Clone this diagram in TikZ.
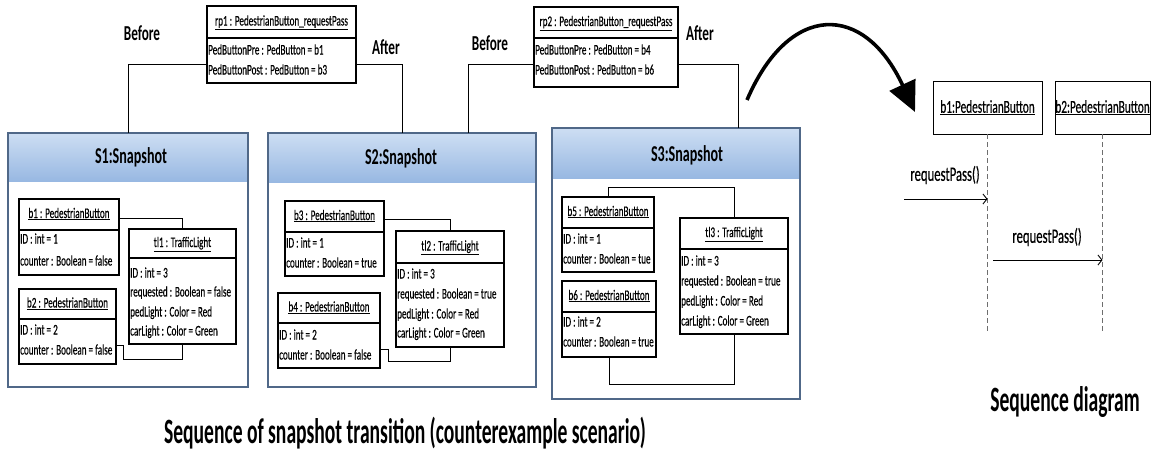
\documentclass[tikz,border=0pt]{standalone}
\usepackage{fontspec}
\setmainfont{Carlito}[FakeStretch=0.62]
\newfontfamily\objfont{Carlito}[FakeStretch=0.62, FakeBold=0.35]
\newfontfamily\capfont{Carlito}[FakeStretch=0.55]
\usetikzlibrary{arrows.meta}

\definecolor{bandtop}{RGB}{205,222,243}
\definecolor{bandbot}{RGB}{152,184,226}
\definecolor{snapedge}{RGB}{80,104,136}
\definecolor{lifeline}{RGB}{110,110,110}

\tikzset{
  objbox/.style={draw=black, line width=1.1pt, fill=white, inner sep=0pt, outer sep=0pt},
  objbox-div/.style={draw=black, line width=1.1pt},
  rpbox/.style={draw=black, line width=2.4pt, fill=white, inner sep=0pt, outer sep=0pt},
  rpbox-div/.style={draw=black, line width=2pt},
  objtext/.style={font=\objfont\fontsize{14.7}{16}\selectfont, inner sep=1pt, text height=10pt, text depth=3pt},
  lbl/.style={font=\bfseries\fontsize{21.3}{24}\selectfont, inner sep=0pt},
  ttl/.style={font=\bfseries\fontsize{22.7}{26}\selectfont, inner sep=0pt},
  captext/.style={font=\capfont\bfseries\fontsize{35.6}{40}\selectfont, inner sep=0pt},
  msg/.style={font=\objfont\fontsize{20.5}{24}\selectfont, inner sep=0pt},
  snapbox/.style={draw=snapedge, line width=1.2pt, fill=white, inner sep=0pt, outer sep=0pt},
  band/.style={top color=bandtop, bottom color=bandbot},
  conn/.style={draw=black, line width=0.9pt},
  seqbox/.style={draw=black, line width=0.9pt, fill=white, inner sep=0pt, outer sep=0pt,
    font=\objfont\fontsize{18.2}{21}\selectfont},
  life/.style={draw=lifeline, line width=0.9pt, dash pattern=on 5pt off 3pt},
  call/.style={draw=black, line width=0.9pt, -{Straight Barb[length=4pt,width=10pt]}},
}

% #1 style, #2 name, #3 left, #4 top, #5 right, #6 divider, #7 bottom, #8 header, #9 y/attribute list
\newcommand{\umlobject}[9]{%
  \node[#1, anchor=north west, minimum width={(#5-#3)*1pt}, minimum height={(#7-#4)*1pt}] (#2) at (#3,#4) {};
  \draw[#1-div] (#3,#6) -- (#5,#6);
  \node[objtext] (#2-h) at ({(#3+#5)/2},{(#4+#6)/2}) {\underline{#8}};
  \foreach \ay/\atext [count=\ai] in {#9} {\node[objtext, anchor=west] (#2-a\ai) at (#3,\ay) {\atext};}
}

% #1 name, #2 left, #3 top, #4 right, #5 bottom, #6 band bottom, #7 title x, #8 title y, #9 title
\newcommand{\snapshot}[9]{%
  \node[snapbox, anchor=north west, minimum width={(#4-#2)*1pt}, minimum height={(#5-#3)*1pt}] (#1) at (#2,#3) {};
  \shade[band] (#1.north west) rectangle ([yshift={(#3-#6)*1pt}]#1.north east);
  \draw[snapedge, line width=1.2pt] (#1.north west) rectangle (#1.south east);
  \node[ttl] (#1-t) at (#7,#8) {#9};
}

\begin{document}
\begin{tikzpicture}[x=1pt, y=-1pt]
\useasboundingbox (0,0) rectangle (1151,450);

% requestPass operation instances
\umlobject{rpbox}{rp1}{207}{6}{356}{38}{83}{rp1 : PedestrianButton\_requestPass}
  {51/PedButtonPre : PedButton = b1, 71/PedButtonPost : PedButton = b3}
\umlobject{rpbox}{rp2}{534}{7}{678}{38}{87}{rp2 : PedestrianButton\_requestPass}
  {51/PedButtonPre : PedButton = b4, 71/PedButtonPost : PedButton = b6}

\node[lbl] (bef1) at (142,33) {Before};
\node[lbl] (aft1) at (386,47) {After};
\node[lbl] (bef2) at (490,43) {Before};
\node[lbl] (aft2) at (700,33) {After};

% snapshots
\snapshot{S1}{8}{133}{248}{387}{181}{131}{157}{S1:Snapshot}
\snapshot{S2}{268}{133}{536}{387}{182}{401}{158}{S2:Snapshot}
\snapshot{S3}{552}{128}{800}{399}{178}{687}{155}{S3:Snapshot}

% links from the operation instances to the snapshots
\draw[conn] ([yshift=-19.5pt]rp1.west) -| (S1.north);
\draw[conn] ([yshift=-19.5pt]rp1.east) -| (S2.north);
\draw[conn] ([yshift=-17pt]rp2.west) -| ([xshift=66pt]S2.north);
\draw[conn] ([yshift=-17pt]rp2.east) -| ([xshift=62pt]S3.north);

% S1 objects
\umlobject{objbox}{b1}{19}{199}{119}{230}{275}{b1 : PedestrianButton}
  {240/ID : int = 1, 262/counter : Boolean = false}
\umlobject{objbox}{b2}{19}{289}{116}{319}{364}{b2 : PedestrianButton}
  {331/ID : int = 2, 351/counter : Boolean = false}
\umlobject{objbox}{tl1}{129}{229}{236}{258}{344}{tl1 : TrafficLight}
  {274/ID : int = 3, 293/requested : Boolean = false, 313/pedLight : Color = Red, 332/carLight : Color = Green}
\draw[conn] ([yshift=19pt]b1.east) -| (tl1.north);
\draw[conn] ([yshift=-18.5pt]b2.east) -- ++(7,0) -- ++(0,14) -| (tl1.south);

% S2 objects
\umlobject{objbox}{b3}{285}{201}{384}{232}{276}{b3 : PedestrianButton}
  {244/ID : int = 1, 264/counter : Boolean = true}
\umlobject{objbox}{b4}{278}{293}{380}{323}{368}{b4 : PedestrianButton}
  {336/ID : int = 2, 356/counter : Boolean = false}
\umlobject{objbox}{tl2}{396}{231}{504}{263}{347}{tl2 : TrafficLight}
  {275/ID : int = 3, 295/requested : Boolean = true, 315/pedLight : Color = Red, 334/carLight : Color = Green}
\draw[conn] ([yshift=19.5pt]b3.east) -| (tl2.north);
\draw[conn] ([yshift=-18.5pt]b4.east) -- ++(8,0) -- ++(0,12) -| (tl2.south);

% S3 objects
\umlobject{objbox}{b5}{562}{197}{654}{228}{272}{b5 : PedestrianButton}
  {240/ID : int = 1, 260/counter : Boolean = tue}
\umlobject{objbox}{b6}{562}{281}{656}{312}{357}{b6 : PedestrianButton}
  {323/ID : int = 2, 343/counter : Boolean = true}
\umlobject{objbox}{tl3}{680}{218}{788}{249}{334}{tl3 : TrafficLight}
  {262/ID : int = 3, 282/requested : Boolean = true, 302/pedLight : Color = Red, 322/carLight : Color = Green}
\draw[conn] (b5.north) -- ++(0,-10) -| (tl3.north);
\draw[conn] (b6.south) -- ++(0,27) -| (tl3.south);

% sequence diagram
\node[seqbox, anchor=north west, minimum width=109pt, minimum height=53pt] (sb1) at (933,81) {\underline{b1:PedestrianButton}};
\node[seqbox, anchor=north west, minimum width=95pt, minimum height=53pt] (sb2) at (1055,81) {\underline{b2:PedestrianButton}};
\coordinate (end1) at (sb1.south |- 0,332);
\coordinate (end2) at (sb2.south |- 0,332);
\draw[life] (sb1.south) -- (end1);
\draw[life] (sb2.south) -- (end2);
\coordinate (found) at (904,199);
\draw[call] (found) -- (found -| sb1.south);
\node[msg] (m1) at (945,175) {requestPass()};
\coordinate (m2s) at (993,260);
\draw[call] (m2s) -- (m2s -| sb2.south);
\node[msg] (m2) at (1047,237) {requestPass()};

% transition arrow towards the sequence diagram
\coordinate (arcs) at (747,100);
\coordinate (arce) at (915,112);
\draw[line width=3.6pt, -{Triangle[length=30pt,width=28pt]}] (arcs) .. controls (789,2) and (864,2) .. (arce);

% captions
\node[captext] (cap1) at (405,433) {Sequence of snapshot transition (counterexample scenario)};
\node[captext] (cap2) at (1065,402) {Sequence diagram};
\end{tikzpicture}
\end{document}
